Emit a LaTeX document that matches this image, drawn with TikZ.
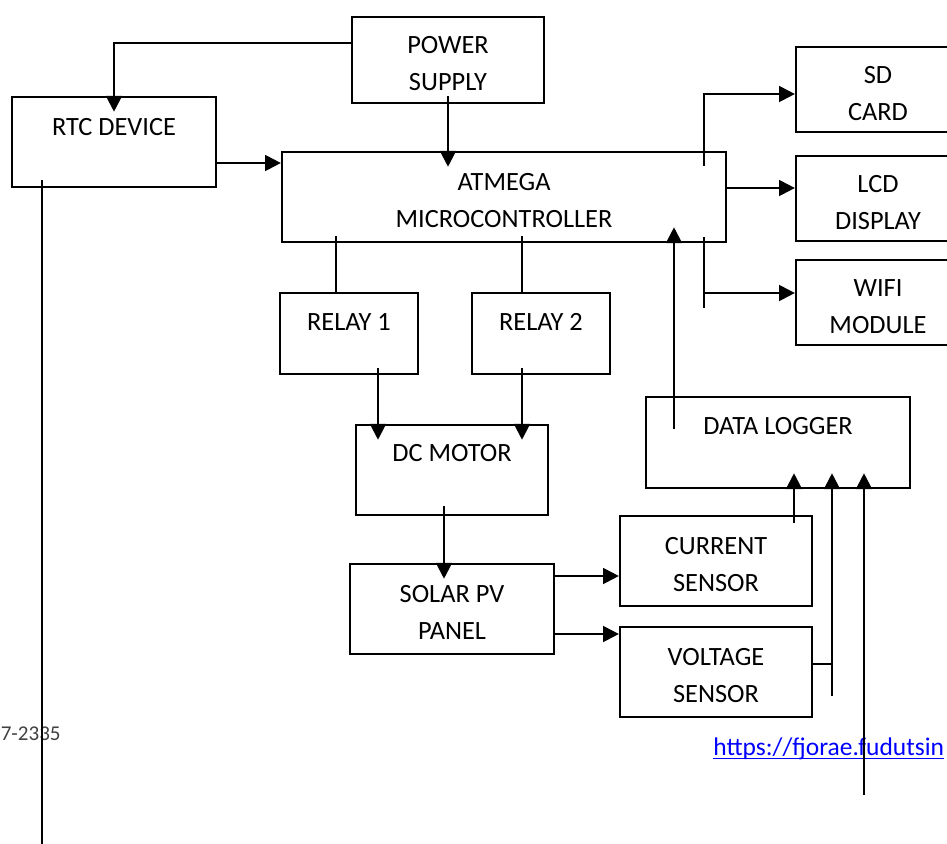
\documentclass[tikz,border=0pt]{standalone}
\usepackage{fontspec}
\setmainfont{Carlito}
\usetikzlibrary{arrows.meta}
\definecolor{linkblue}{HTML}{0000FF}
\definecolor{ghost}{HTML}{404040}

\begin{document}
\begin{tikzpicture}[x=0.02cm,y=-0.02cm,font=\fontsize{15}{21}\selectfont,
      b/.style={rectangle,draw,line width=1.25pt,inner sep=0pt,align=center},
      sz/.style 2 args={minimum width=#1*0.02cm,minimum height=#2*0.02cm},
      two/.style={b,text height=35pt,text depth=0pt},
      one/.style={b,text height=10pt,text depth=#1},
      one/.default=18pt,
      ln/.style={line width=1.25pt},
      a/.style={ln,-{Triangle[length=9pt,width=9pt]}},
      ain/.style={shorten >=-9pt},
      sin/.style={shorten <=-#1}]
      \useasboundingbox (0,0) rectangle (947,843);
      \clip (0,0) rectangle (947,843);
      \fill[white] (0,0) rectangle (947,843);
      % stray page text
      \node[anchor=base east,text=ghost,inner sep=0pt,font=\fontsize{12}{14}\selectfont] (pg) at (61,740) {7-2335};
      \node[anchor=base west,text=linkblue,inner sep=0pt,font=\fontsize{14.5}{17}\selectfont] (url) at (713,755) {https://fjorae.fudutsin};
      \draw[linkblue,line width=0.7pt] ([yshift=-2pt]url.base west) -- ([yshift=-2pt]url.base east);
      % blocks
      \node[two,sz={192}{86}]     (pwr)   at (448,60)    {POWER\\SUPPLY};
      \node[one=17.4pt,sz={204}{90}] (rtc) at (114,142)  {RTC DEVICE};
      \node[two,sz={444}{90}]     (mcu)   at (504,197)   {ATMEGA\\MICROCONTROLLER};
      \node[one=13.4pt,sz={138}{81}] (rly1) at (349,333.5) {RELAY 1};
      \node[one=13.4pt,sz={138}{81}] (rly2) at (541,333.5) {RELAY 2};
      \node[one=19.6pt,sz={192}{90}] (motor) at (452,470) {DC MOTOR};
      \node[two,sz={204}{90}]     (pv)    at (452,609)   {SOLAR PV\\PANEL};
      \node[two,sz={192}{90}]     (cur)   at (716,561)   {CURRENT\\SENSOR};
      \node[two,sz={192}{90}]     (volt)  at (716,672)   {VOLTAGE\\SENSOR};
      \node[one=19.1pt,sz={264}{91}] (log) at (778,442.5) {DATA LOGGER};
      \node[two,sz={164}{85}]     (sd)    at (878,89.5)  {SD\\CARD};
      \node[two,sz={164}{85}]     (lcd)   at (878,198.5) {LCD\\DISPLAY};
      \node[two,sz={164}{85}]     (wifi)  at (878,302.5) {WIFI\\MODULE};
      % wire columns and rows
      \coordinate (k1) at (336,0); \coordinate (k2) at (522,0); \coordinate (k3) at (378,0);
      \coordinate (k4) at (444,0); \coordinate (k5) at (794,0); \coordinate (k6) at (832,696);
      \coordinate (k7) at (864,795); \coordinate (k8) at (674,0); \coordinate (k9) at (704,308);
      \coordinate (r0) at (0,43); \coordinate (r1) at (0,576); \coordinate (r2) at (0,634);
      \coordinate (r3) at (0,664); \coordinate (r4) at (0,94); \coordinate (r5) at (0,188);
      \coordinate (r6) at (0,293); \coordinate (r7) at (0,163);
      \coordinate (rtcend) at (42,850);
      % wires
      \draw[a,ain] (pwr.west |- r0) -| (rtc.north);
      \draw[a,ain,sin=4.5pt] (pwr.south) -- (pwr.south |- mcu.north);
      \draw[a] (rtc.east |- r7) -- (mcu.west |- r7);
      \draw[ln,sin=4.5pt] (rtcend |- rtc.south) -- (rtcend);
      \draw[ln,sin=4pt] (k1 |- mcu.south) -- (k1 |- rly1.north);
      \draw[ln,sin=4pt] (k2 |- mcu.south) -- (k2 |- rly2.north);
      \draw[a,ain,sin=4pt] (k3 |- rly1.south) -- (k3 |- motor.north);
      \draw[a,ain,sin=4pt] (k2 |- rly2.south) -- (k2 |- motor.north);
      \draw[a,ain,sin=5.5pt] (k4 |- motor.south) -- (k4 |- pv.north);
      \draw[a] (pv.east |- r1) -- (cur.west |- r1);
      \draw[a] (pv.east |- r2) -- (volt.west |- r2);
      \draw[a,ain,sin=4.5pt] (k5 |- cur.north) -- (k5 |- log.south);
      \draw[a,ain] (volt.east |- r3) -| (k6 |- log.south);
      \draw[ln] (k6 |- r3) -- (k6);
      \draw[a,ain] (k7) -- (k7 |- log.south);
      \draw[a,ain,sin=18.7pt] (k8 |- log.north) -- (k8 |- mcu.south);
      \draw[a,sin=8.5pt] (k9 |- mcu.north) |- (sd.west |- r4);
      \draw[a] (mcu.east |- r5) -- (lcd.west |- r5);
      \draw[ln,sin=3.5pt] (k9 |- mcu.south) -- (k9);
      \draw[a] (k9 |- r6) -- (wifi.west |- r6);
\end{tikzpicture}
\end{document}
